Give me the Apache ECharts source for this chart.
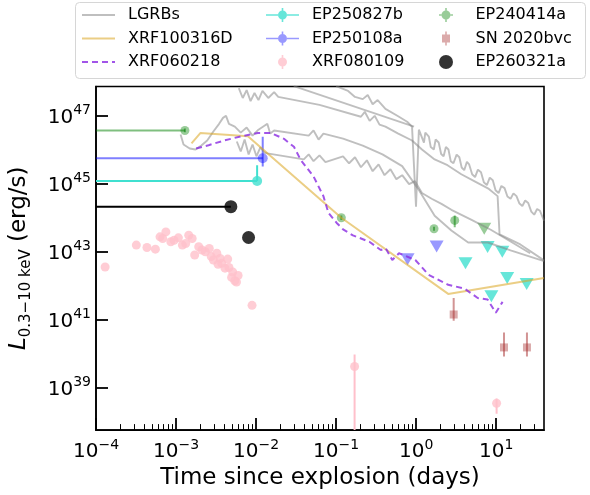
<!DOCTYPE html>
<html lang="en">
<head>
<meta charset="UTF-8">
<title>Luminosity vs time</title>
<script src="https://cdn.jsdelivr.net/npm/echarts@6/dist/echarts.min.js"></script>
<style>
  html, body { margin: 0; padding: 0; background: #fff; }
  #main { width: 590px; height: 495px; }
</style>
</head>
<body>
<div id="main"></div>
<script>
const FONT = 'DejaVu Sans';

// ---- data: [time (days), L (erg/s)] ----
// LGRB light curves (grey background lines)
const lgrbA = [[0.100,7.5e47],[0.141,5.4e47],[0.172,3.6e47],[0.215,3.1e47],[0.248,4.1e47],[0.286,2.2e47],[0.330,2.9e47],[0.413,1.6e47],[0.581,1.0e47],[0.771,6.7e46],[0.887,4.8e46],[0.995,2.1e44],[1.08,3.9e46],[1.25,1.63e46],[1.30,3.2e46],[1.44,2.44e46],[1.52,1.2e46],[1.66,1.02e46],[1.75,2.0e46],[1.91,1.63e46],[2.05,7.5e45],[2.20,6.4e45],[2.35,1.2e46],[2.53,1.02e46],[2.70,4.6e45],[2.92,4.0e45],[3.2,7.2e45],[3.46,6.0e45],[3.7,3.0e45],[3.98,2.5e45],[4.3,4.4e45],[4.59,3.7e45],[5.0,1.9e45],[5.44,1.56e45],[5.9,2.6e45],[6.45,2.18e45],[7.0,1.1e45],[7.64,9.1e44],[8.3,1.5e45],[9.06,1.27e45],[9.8,6.4e44],[10.7,5.3e44],[11.6,8.6e44],[12.7,7.4e44],[13.8,4.2e44],[15.1,3.6e44],[16.4,5.2e44],[17.9,4.3e44],[19.5,2.6e44],[21.2,2.2e44],[23.0,3.2e44],[25.1,2.7e44],[27.4,1.5e44],[29.8,1.22e44],[32.4,1.8e44],[35.2,1.59e44],[39.5,8.1e43]];
const lgrbB = [[6.08e-3,6.5e47],[6.81e-3,3.35e47],[7.62e-3,5.7e47],[8.53e-3,2.7e47],[9.55e-3,4.7e47],[0.0107,2.9e47],[0.0120,5.4e47],[0.0142,3.35e47],[0.0168,5.0e47],[0.0189,3.6e47],[0.0619,2.1e47],[0.204,9.4e46],[0.228,1.31e47],[0.262,7.1e46],[0.303,1.0e47],[0.348,5.5e46],[0.413,4.8e46],[0.597,3.0e46],[0.887,1.87e46],[1.18,1.02e46],[1.70,5.2e45],[2.46,3.5e45],[3.66,1.9e45],[5.60,1.11e45],[8.09,7.0e44],[10.4,4.3e44],[11.0,3.2e43],[20.0,1.62e43],[39.5,5.5e42]];
const lgrbC = [[0.0296,7.5e47],[0.940,4.8e46]];
const lgrbD = [[1.14e-3,2.8e46],[1.24e-3,1.43e46],[1.48e-3,1.09e46],[1.75e-3,1.02e46],[2.07e-3,1.33e46],[2.45e-3,1.87e46],[2.91e-3,3.4e46],[3.45e-3,5.8e46],[3.86e-3,8.7e46],[4.21e-3,1.0e47],[4.58e-3,5.8e46],[5.42e-3,4.8e46],[6.43e-3,3.2e46],[7.62e-3,4.5e46],[9.03e-3,2.6e46],[0.0107,3.9e46],[0.0127,5.1e46],[0.0138,5.8e46],[0.0150,3.0e46],[0.0168,3.7e46],[0.0454,2.6e46],[0.0522,3.7e46],[0.0603,2.0e46],[0.0693,3.0e46],[0.122,2.13e46],[0.215,1.33e46],[0.379,7.3e45],[0.668,3.3e45],[1.08,6.5e44],[1.70,1.14e44],[2.75,4.2e43],[4.46,1.85e43],[7.85,1.85e43],[15.1,1.08e43],[39.5,5.2e42]];
const lgrbE = [[5.74e-3,1.75e46],[6.43e-3,8.9e45],[7.19e-3,2.0e46],[8.07e-3,7.3e45],[9.03e-3,1.43e46],[0.0101,6.4e45],[0.0113,1.17e46],[0.0127,8.3e45],[0.0138,7.8e45],[0.0394,5.2e45],[0.0454,7.3e45],[0.0522,4.6e45],[0.0619,6.8e45],[0.0735,4.3e45],[0.122,6.4e45],[0.145,4.0e45],[0.172,6.0e45],[0.204,3.05e45],[0.242,4.9e45],[0.286,2.33e45],[0.339,3.7e45],[0.402,1.78e45],[0.477,2.67e45],[0.565,1.36e45],[0.668,1.78e45],[0.815,9.7e44],[0.966,1.19e45],[1.18,5.3e44],[1.56,3.6e44],[2.07,2.54e44],[2.75,1.7e44],[4.85,8.7e43],[8.55,4.4e43],[15.1,1.98e43],[26.5,8.9e42]];

// XRF100316D
const xrf100316dT = [1.56e-3, 2.01e-3, 7.9e-3, 0.116, 2.51, 39.5];
const xrf100316dL = [1.53e46, 3.1e46, 2.5e46, 9.9e43, 5.65e41, 1.66e42];

// XRF060218
const xrf060218T = [1.78e-3, 2.55e-3, 4.08e-3, 6.56e-3, 0.0105, 0.01535, 0.0223, 0.0297, 0.0361, 0.0522, 0.0693, 0.080, 0.101, 0.122, 0.162, 0.26, 0.361, 0.417, 0.503, 0.609, 0.975, 1.43, 2.51, 4.02, 5.87, 7.8, 9.87, 12.0];
const xrf060218L = [1.09e46, 1.36e46, 1.9e46, 2.5e46, 3.1e46, 3.1e46, 2.1e46, 1.22e46, 5.0e45, 1.63e45, 4.3e44, 1.39e44, 7.1e43, 4.5e43, 3.0e43, 1.95e43, 1.11e43, 1.24e43, 5.65e42, 8.9e42, 5.65e42, 2.07e42, 1.05e42, 8.1e41, 4.3e41, 3.86e41, 1.58e41, 3.3e41];

// XRF080109
const xrf080109T = [1.3e-4, 3.19e-4, 4.33e-4, 5.52e-4, 6.31e-4, 7.46e-4, 6.8e-4, 8.6e-4, 9.45e-4, 1.07e-3, 1.2e-3, 1.32e-3, 1.44e-3, 1.59e-3, 1.71e-3, 1.92e-3, 2.11e-3, 2.32e-3, 2.6e-3, 2.75e-3, 2.93e-3, 3.23e-3, 3.35e-3, 3.55e-3, 3.72e-3, 4.42e-3, 4.09e-3, 4.58e-3, 5.1e-3, 4.94e-3, 5.42e-3, 5.96e-3, 5.69e-3, 8.9e-3, 0.17, 10.1];
const xrf080109L = [3.5e42, 1.55e43, 1.32e43, 1.18e43, 2.72e43, 3.8e43, 2.43e43, 1.95e43, 2.16e43, 2.54e43, 1.55e43, 1.73e43, 3.03e43, 2.43e43, 7.9e42, 1.39e43, 1.11e43, 9.9e42, 1.24e43, 7.1e42, 5.65e42, 8.9e42, 4.2e42, 6.3e42, 4.5e42, 6.0e42, 3.24e42, 3.4e42, 2.5e42, 1.73e42, 1.38e42, 1.98e42, 1.26e42, 2.6e41, 4.1e39, 3.4e38];
const xrf080109Lo = [null, null, null, null, null, null, null, null, null, null, null, null, null, null, null, null, null, null, null, null, null, null, null, null, null, null, null, null, null, null, null, null, null, null, 1e37, 1.66e38];
const xrf080109Hi = [null, null, null, null, null, null, null, null, null, null, null, null, null, null, null, null, null, null, null, null, null, null, null, null, null, null, null, null, null, null, null, null, null, null, 9.3e39, 4.7e38];

// SN 2020bvc
const sn2020bvcT = [2.94, 12.5, 24.2];
const sn2020bvcL = [1.4e41, 1.5e40, 1.5e40];
const sn2020bvcLo = [9.1e40, 8.1e39, 8.1e39];
const sn2020bvcHi = [4.3e41, 4.1e40, 4.1e40];

// EP240414a
const ep240414aT = [1.29e-3, 0.116, 1.67, 3.03];
const ep240414aL = [3.7e46, 9.9e43, 4.7e43, 8.3e43];
const ep240414aTlo = [1e-5, null, null, null];
const ep240414aLo = [3.3e46, 8.5e43, 4.1e43, 5.2e43];
const ep240414aHi = [4.2e46, 1.15e44, 5.4e43, 1.15e44];
const ep240414aUlT = [7.08];
const ep240414aUlL = [4.7e43];

// EP250108a
const ep250108aT = [0.0121];
const ep250108aL = [5.6e45];
const ep250108aTlo = [1e-5];
const ep250108aLo = [3.2e45];
const ep250108aHi = [2.4e46];
const ep250108aUlT = [1.80, 0.78];
const ep250108aUlL = [1.42e43, 5.9e42];

// EP250827b
const ep250827bT = [0.0103];
const ep250827bL = [1.2e45];
const ep250827bTlo = [1e-5];
const ep250827bLo = [1.2e45];
const ep250827bHi = [3.5e45];
const ep250827bUlT = [4.13, 7.8, 11.9, 13.7, 24.0, 8.7];
const ep250827bUlL = [4.5e42, 1.37e43, 9.8e42, 1.66e42, 1.1e42, 4.8e41];

// EP260321a
const ep260321aT = [4.84e-3, 8.05e-3];
const ep260321aL = [2.1e44, 2.6e43];
const ep260321aTlo = [1e-5, null];

// axis ticks
const xMajor = [1e-4, 1e-3, 1e-2, 1e-1, 1, 10];
const xMinorMult = [2, 3, 4, 5, 6, 7, 8, 9];
const yMajor = [1e39, 1e41, 1e43, 1e45, 1e47];
const X_MIN = 1e-4, X_MAX = 39.5;
const Y_MIN = 5.5e37, Y_MAX = 7.3e47;

const xMinor = [];
xMajor.forEach(d => xMinorMult.forEach(m => { if (d * m < X_MAX) xMinor.push(d * m); }));

// ---- helpers ----
function pairs(t, l) { return t.map((v, i) => [v, l[i]]); }
function errRows(t, l, tlo, lo, hi) {
  return t.map((v, i) => [v, l[i], tlo ? tlo[i] : null, lo ? lo[i] : null, hi ? hi[i] : null]);
}
function errBars(color, width) {
  return function (params, api) {
    const x = api.value(0), y = api.value(1);
    const xlo = api.value(2), ylo = api.value(3), yhi = api.value(4);
    const kids = [];
    const st = { stroke: color, lineWidth: width };
    if (xlo > 0 && xlo < x) {
      const a = api.coord([xlo, y]), b = api.coord([x, y]);
      kids.push({ type: 'line', shape: { x1: a[0], y1: a[1], x2: b[0], y2: b[1] }, style: st });
    }
    if (ylo > 0 && yhi > 0 && ylo !== yhi) {
      const a = api.coord([x, ylo]), b = api.coord([x, yhi]);
      kids.push({ type: 'line', shape: { x1: a[0], y1: a[1], x2: b[0], y2: b[1] }, style: st });
    }
    return { type: 'group', children: kids };
  };
}
function powLabel(v) {
  const e = Math.round(Math.log10(v));
  return '{b|10}{s|' + (e < 0 ? '\u2212' + (-e) : e) + '}';
}
const powRich = {
  b: { fontSize: 20, fontFamily: FONT, color: '#000', lineHeight: 24, verticalAlign: 'bottom' },
  s: { fontSize: 14, fontFamily: FONT, color: '#000', lineHeight: 14, verticalAlign: 'top' }
};

// legend icons (marker + error bar)
const iconCross = 'path://M0,6.2L12,6.2L12,7.8L0,7.8Z M21,6.2L33,6.2L33,7.8L21,7.8Z M15.7,0L17.3,0L17.3,2.5L15.7,2.5Z M15.7,11.5L17.3,11.5L17.3,14L15.7,14Z M12,7A4.5,4.5,0,1,0,21,7A4.5,4.5,0,1,0,12,7Z';
const iconSmallCross = 'path://M0,6.2L2.5,6.2L2.5,7.8L0,7.8Z M11.5,6.2L14,6.2L14,7.8L11.5,7.8Z M6.2,0L7.8,0L7.8,2.5L6.2,2.5Z M6.2,11.5L7.8,11.5L7.8,14L6.2,14Z M2.5,7A4.5,4.5,0,1,0,11.5,7A4.5,4.5,0,1,0,2.5,7Z';
const iconVBar = 'path://M3.7,0L5.3,0L5.3,2.5L3.7,2.5Z M3.7,11.5L5.3,11.5L5.3,14L3.7,14Z M0,7A4.5,4.5,0,1,0,9,7A4.5,4.5,0,1,0,0,7Z';
const iconSquareBar = 'path://M3.2,0L4.8,0L4.8,3L3.2,3Z M3.2,11L4.8,11L4.8,14L3.2,14Z M0,3L8,3L8,11L0,11Z';

const C_GREY = 'rgba(128,128,128,0.5)';
const C_GOLD = 'rgba(218,165,32,0.55)';
const C_PURPLE = 'rgba(138,43,226,0.8)';
const C_PINK = '#ffc0cb';
const C_BROWN = 'rgba(165,42,42,0.5)';
const C_GREEN = 'rgba(0,128,0,0.5)';
const C_BLUE = 'rgba(0,0,255,0.5)';
const C_TURQ = '#40e0d0';

function greyLine(d) {
  return { name: 'LGRBs', type: 'line', data: d, symbol: 'none', silent: true,
    lineStyle: { color: C_GREY, width: 1.9 }, itemStyle: { color: C_GREY } };
}
function limits(name, t, l, color) {
  return { name: name, type: 'scatter', data: pairs(t, l), symbol: 'triangle', symbolRotate: 180,
    symbolSize: [14, 12], itemStyle: { color: color } };
}

const legendText = { fontSize: 16, fontFamily: FONT, color: '#000', lineHeight: 16, padding: [0, 0, 0, 8] };
function legendCol(left, items) {
  return { left: left, top: 7, orient: 'vertical', padding: 0, itemGap: 7.5,
    itemWidth: 33, itemHeight: 14, textStyle: legendText, selectedMode: false, data: items };
}
// line entries: show only the line sample, no marker
function lineItem(name) { return { name: name, itemStyle: { opacity: 0 } }; }

var myChart = echarts.init(document.getElementById('main'));

option = {
  animation: false,
  backgroundColor: '#fff',
  graphic: [{
    type: 'rect', left: 75, top: 2, z: 0,
    shape: { width: 510, height: 76, r: 4 },
    style: { fill: 'rgba(255,255,255,0.8)', stroke: '#d6d6d6', lineWidth: 1 }
  }],
  legend: [
    legendCol(81, [lineItem('LGRBs'), lineItem('XRF100316D'), lineItem('XRF060218')]),
    legendCol(266, [{ name: 'EP250827b', icon: iconCross }, { name: 'EP250108a', icon: iconCross }, { name: 'XRF080109', icon: iconVBar }]),
    legendCol(439, [{ name: 'EP240414a', icon: iconSmallCross }, { name: 'SN 2020bvc', icon: iconSquareBar }, { name: 'EP260321a', icon: 'circle' }])
  ],
  grid: { left: 89, right: 46, top: 86.5, bottom: 62, show: true, borderColor: '#000', borderWidth: 1.6 },
  xAxis: [{
    type: 'log', logBase: 10, min: X_MIN, max: X_MAX,
    axisLine: { lineStyle: { color: '#000', width: 1.6 } },
    axisTick: { inside: true, length: 12, lineStyle: { color: '#000', width: 1.8 }, customValues: xMajor },
    axisLabel: { customValues: xMajor, formatter: powLabel, rich: powRich, margin: 8 },
    splitLine: { show: false },
    name: 'Time since explosion (days)', nameLocation: 'middle', nameGap: 35,
    nameTextStyle: { fontSize: 23, fontFamily: FONT, color: '#000' }
  }, {
    type: 'log', logBase: 10, min: X_MIN, max: X_MAX, position: 'bottom',
    axisLine: { show: false },
    axisTick: { inside: true, length: 6, lineStyle: { color: '#000', width: 1 }, customValues: xMinor },
    axisLabel: { show: false }, splitLine: { show: false }
  }],
  yAxis: {
    type: 'log', logBase: 10, min: Y_MIN, max: Y_MAX,
    axisLine: { lineStyle: { color: '#000', width: 1.6 } },
    axisTick: { inside: true, length: 12, lineStyle: { color: '#000', width: 1.8 }, customValues: yMajor },
    axisLabel: { customValues: yMajor, formatter: powLabel, rich: powRich, margin: 5 },
    splitLine: { show: false },
    name: '{i|L}{sub|0.3\u221210 keV}{n| (erg/s)}', nameLocation: 'middle', nameGap: 62,
    nameTextStyle: {
      rich: {
        i: { fontSize: 23, fontFamily: FONT, fontStyle: 'italic', color: '#000', lineHeight: 26, verticalAlign: 'top' },
        sub: { fontSize: 15, fontFamily: FONT, color: '#000', lineHeight: 16, verticalAlign: 'bottom' },
        n: { fontSize: 23, fontFamily: FONT, color: '#000', lineHeight: 26, verticalAlign: 'top' }
      },
      lineHeight: 31
    }
  },
  series: [
    greyLine(lgrbA), greyLine(lgrbB), greyLine(lgrbC), greyLine(lgrbD), greyLine(lgrbE),
    { name: 'XRF100316D', type: 'line', data: pairs(xrf100316dT, xrf100316dL), symbol: 'none',
      lineStyle: { color: C_GOLD, width: 2 }, itemStyle: { color: C_GOLD } },
    { name: 'XRF060218', type: 'line', data: pairs(xrf060218T, xrf060218L), symbol: 'none',
      lineStyle: { color: C_PURPLE, width: 2, type: [6, 4] }, itemStyle: { color: C_PURPLE } },

    { name: 'xrf080109-err', type: 'custom', clip: true, renderItem: errBars(C_PINK, 2),
      data: errRows(xrf080109T, xrf080109L, null, xrf080109Lo, xrf080109Hi) },
    { name: 'XRF080109', type: 'scatter', data: pairs(xrf080109T, xrf080109L), symbolSize: 9,
      itemStyle: { color: C_PINK } },

    { name: 'sn-err', type: 'custom', clip: true, renderItem: errBars(C_BROWN, 2),
      data: errRows(sn2020bvcT, sn2020bvcL, null, sn2020bvcLo, sn2020bvcHi) },
    { name: 'SN 2020bvc', type: 'scatter', data: pairs(sn2020bvcT, sn2020bvcL), symbol: 'rect', symbolSize: 8,
      itemStyle: { color: C_BROWN } },

    { name: 'ep240414a-err', type: 'custom', clip: true, renderItem: errBars(C_GREEN, 2),
      data: errRows(ep240414aT, ep240414aL, ep240414aTlo, ep240414aLo, ep240414aHi) },
    { name: 'EP240414a', type: 'scatter', data: pairs(ep240414aT, ep240414aL), symbolSize: 9,
      itemStyle: { color: C_GREEN } },
    limits('ep240414a-ul', ep240414aUlT, ep240414aUlL, C_GREEN),

    { name: 'ep250108a-err', type: 'custom', clip: true, renderItem: errBars(C_BLUE, 2),
      data: errRows(ep250108aT, ep250108aL, ep250108aTlo, ep250108aLo, ep250108aHi) },
    { name: 'EP250108a', type: 'scatter', data: pairs(ep250108aT, ep250108aL), symbolSize: 10,
      itemStyle: { color: C_BLUE } },
    limits('ep250108a-ul', ep250108aUlT, ep250108aUlL, C_BLUE),

    { name: 'ep250827b-err', type: 'custom', clip: true, renderItem: errBars(C_TURQ, 2),
      data: errRows(ep250827bT, ep250827bL, ep250827bTlo, ep250827bLo, ep250827bHi) },
    { name: 'EP250827b', type: 'scatter', data: pairs(ep250827bT, ep250827bL), symbolSize: 10,
      itemStyle: { color: C_TURQ } },
    limits('ep250827b-ul', ep250827bUlT, ep250827bUlL, C_TURQ),

    { name: 'ep260321a-err', type: 'custom', clip: true, renderItem: errBars('#000', 2),
      data: errRows(ep260321aT, ep260321aL, ep260321aTlo, null, null) },
    { name: 'EP260321a', type: 'scatter', data: pairs(ep260321aT, ep260321aL), symbolSize: 13,
      itemStyle: { color: '#000' } }
  ]
};

myChart.setOption(option);
</script>
</body>
</html>
